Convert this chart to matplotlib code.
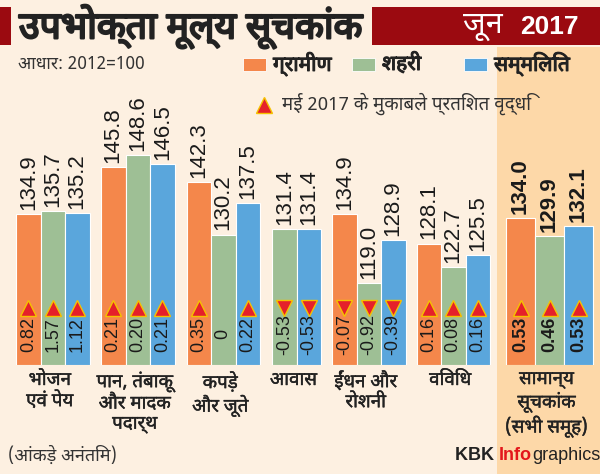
import matplotlib
matplotlib.use("Agg")
import matplotlib.pyplot as plt
import matplotlib.patheffects as pe
from matplotlib import font_manager
from matplotlib.ft2font import FT2Font
from matplotlib.patches import Rectangle
from matplotlib.transforms import blended_transform_factory

# data (CPI, June 2017, base 2012=100)
categories = ['भोजन\nएवं पेय', 'पान, तंबाकू\nऔर मादक\nपदार्थ', 'कपड़े\nऔर जूते', 'आवास',
              'ईंधन और\nरोशनी', 'विविध', 'सामान्य\nसूचकांक\n(सभी समूह)']
rural = [134.9, 145.8, 142.3, None, 134.9, 128.1, 134.0]
urban = [135.7, 148.6, 130.2, 131.4, 119.0, 122.7, 129.9]
combined = [135.2, 146.5, 137.5, 131.4, 128.9, 125.5, 132.1]
rural_chg = [0.82, 0.21, 0.35, None, -0.07, 0.16, 0.53]
urban_chg = [1.57, 0.20, 0, -0.53, -0.92, 0.08, 0.46]
comb_chg = [1.12, 0.21, 0.22, -0.53, -0.39, 0.16, 0.53]
series_names = ['ग्रामीण', 'शहरी', 'सम्मिलित']
colors = ['#F4874B', '#9EBF95', '#5AA6DC']
base = 100


# families that really have Devanagari glyphs; avoid mono/serif ones if possible
def deva_families():
    found = []
    for f in font_manager.fontManager.ttflist:
        try:
            if FT2Font(f.fname).get_char_index(ord('क')) and f.name not in found:
                found.append(f.name)
        except Exception:
            pass
    return found


cands = deva_families()
prefer = ['Noto Sans Devanagari', 'Lohit Devanagari', 'Mukta', 'Hind', 'FreeSans',
          'Gargi', 'Samanata', 'Kalimati']
deva = None
for p in prefer:
    if p in cands:
        deva = p
        break
if deva is None:
    rest = [c for c in cands if 'Mono' not in c and 'Serif' not in c] or cands
    deva = rest[0] if rest else None
hindi = [deva, 'DejaVu Sans'] if deva else ['DejaVu Sans']
names = set(f.name for f in font_manager.fontManager.ttflist)
num_font = 'Liberation Sans Narrow' if 'Liberation Sans Narrow' in names else 'Liberation Sans'
print('devanagari fonts:', cands, '-> using', deva, '| numbers:', num_font)

# fake a heavier weight with an outline of the same colour
heavy = [pe.withStroke(linewidth=1.6, foreground='#222222')]
semi = [pe.withStroke(linewidth=0.8, foreground='#222222')]

W, H = 600, 474
fig = plt.figure(figsize=(6, 4.74), dpi=100, facecolor='#FDF0E1')


def px(x, y):
    return x / W, 1 - y / H


# peach panel behind the overall index
fig.add_artist(Rectangle(px(497, 474), 103 / W, 427 / H, transform=fig.transFigure,
                         facecolor='#FDD8A8', edgecolor='none', zorder=0))

# title bar
fig.add_artist(Rectangle(px(0, 45), 11 / W, 38 / H, transform=fig.transFigure,
                         facecolor='#9B0A10', edgecolor='none'))
fig.add_artist(Rectangle(px(372, 45), 228 / W, 38 / H, transform=fig.transFigure,
                         facecolor='#9B0A10', edgecolor='none'))
fig.text(*px(19, 27), 'उपभोक्ता मूल्य सूचकांक', family=hindi, fontsize=27,
         fontweight='bold', color='#222222', va='center', ha='left', path_effects=heavy)
fig.text(*px(463, 26), 'जून', family=hindi, fontsize=22, color='white',
         va='center', ha='left')
fig.text(*px(579, 27), '2017', family='Liberation Sans', fontsize=19, fontweight='bold',
         color='white', va='center', ha='right')

# base + legend
fig.text(*px(18, 64), 'आधार: 2012=100', family=hindi, fontsize=12.5, color='#333333',
         va='center', ha='left')
leg_x = [243, 352, 464]
for lx, name, c in zip(leg_x, series_names, colors):
    fig.add_artist(Rectangle(px(lx, 71), 23 / W, 13 / H, transform=fig.transFigure,
                             facecolor=c, edgecolor='white', linewidth=0.6))
    fig.text(*px(lx + 30, 64), name, family=hindi, fontsize=15, fontweight='bold',
             color='#222222', va='center', ha='left', path_effects=semi)

# main axes: x in pixels, y in index points
ax = fig.add_axes([0, 109 / H, 1, (365 - 105.8) / H])
ax.set_xlim(0, W)
ax.set_ylim(base, 160)
ax.axis('off')
ax.patch.set_alpha(0)

# triangle key
top = fig.add_axes([0, 0, 1, 1], facecolor='none')
top.set_xlim(0, W)
top.set_ylim(H, 0)
top.axis('off')
top.plot([264], [105], marker='^', ms=11, mfc='#E5202A', mec='#F5C200', mew=1)
fig.text(*px(282, 104), 'मई 2017 के मुकाबले प्रतिशत वृद्धि', family=hindi, fontsize=13.5,
         color='#333333', va='center', ha='left')

# group layout (pixels)
bar_w = [24.5] * 6 + [29]
gaps = [0, 11.5, 12, 12, 11, 11, 16]
x0 = 16
trans_lbl = blended_transform_factory(ax.transData, fig.transFigure)
for g in range(len(categories)):
    x0 += gaps[g]
    vals = [rural[g], urban[g], combined[g]]
    chgs = [rural_chg[g], urban_chg[g], comb_chg[g]]
    last = g == len(categories) - 1
    weight = 'bold' if last else 'normal'
    start = x0
    for v, ch, c in zip(vals, chgs, colors):
        if v is None:
            continue
        xc = x0 + bar_w[g] / 2
        ax.bar(xc, v - base, bottom=base, width=bar_w[g], color=c,
               edgecolor='white', linewidth=0.8, zorder=2)
        ax.annotate('%.1f' % v, (xc, v), xytext=(0, 3), textcoords='offset points',
                    rotation=90, ha='center', va='bottom', fontsize=16,
                    family=num_font, fontweight=weight, color='#1a1a1a')
        lbl = '0' if ch == 0 else '%.2f' % ch
        ax.text(xc, 107.1, lbl, rotation=90, ha='center', va='center', fontsize=13,
                family=num_font, fontweight=weight, color='#1a1a1a', zorder=3)
        if ch != 0:
            ax.plot(xc, 113.2, marker='^' if ch > 0 else 'v', ms=11, mfc='#E5202A',
                    mec='#F5C200', mew=1, zorder=3)
        x0 += bar_w[g]
    centre = (start + x0) / 2 - 3
    ax.text(centre, 1 - 371 / H, categories[g], transform=trans_lbl, ha='center', va='top',
            family=hindi, fontsize=13.5, color='#222222', linespacing=1.15,
            path_effects=[pe.withStroke(linewidth=0.3, foreground='#222222')])

# footer
fig.text(*px(8, 455), '(आंकड़े अनंतिम)', family=hindi, fontsize=13, style='italic',
         color='#333333', va='center', ha='left')
k = fig.text(*px(455, 455), 'KBK ', family='Liberation Sans', fontsize=13, fontweight='bold',
             color='#222222', va='center', ha='left')
k2 = fig.text(0, 0, 'Info', family='Liberation Sans', fontsize=13, fontweight='bold',
              color='#E3161B', va='center', ha='left')
k3 = fig.text(0, 0, 'graphics', family='Liberation Sans', fontsize=13,
              color='#222222', va='center', ha='left')
fig.canvas.draw()
r = fig.canvas.get_renderer()
bb = k.get_window_extent(r)
k2.set_position((fig.transFigure.inverted().transform((bb.x1, 0))[0], 1 - 455 / H))
bb = k2.get_window_extent(r)
k3.set_position((fig.transFigure.inverted().transform((bb.x1, 0))[0], 1 - 455 / H))

fig.savefig('out.png', dpi=100, facecolor=fig.get_facecolor())
